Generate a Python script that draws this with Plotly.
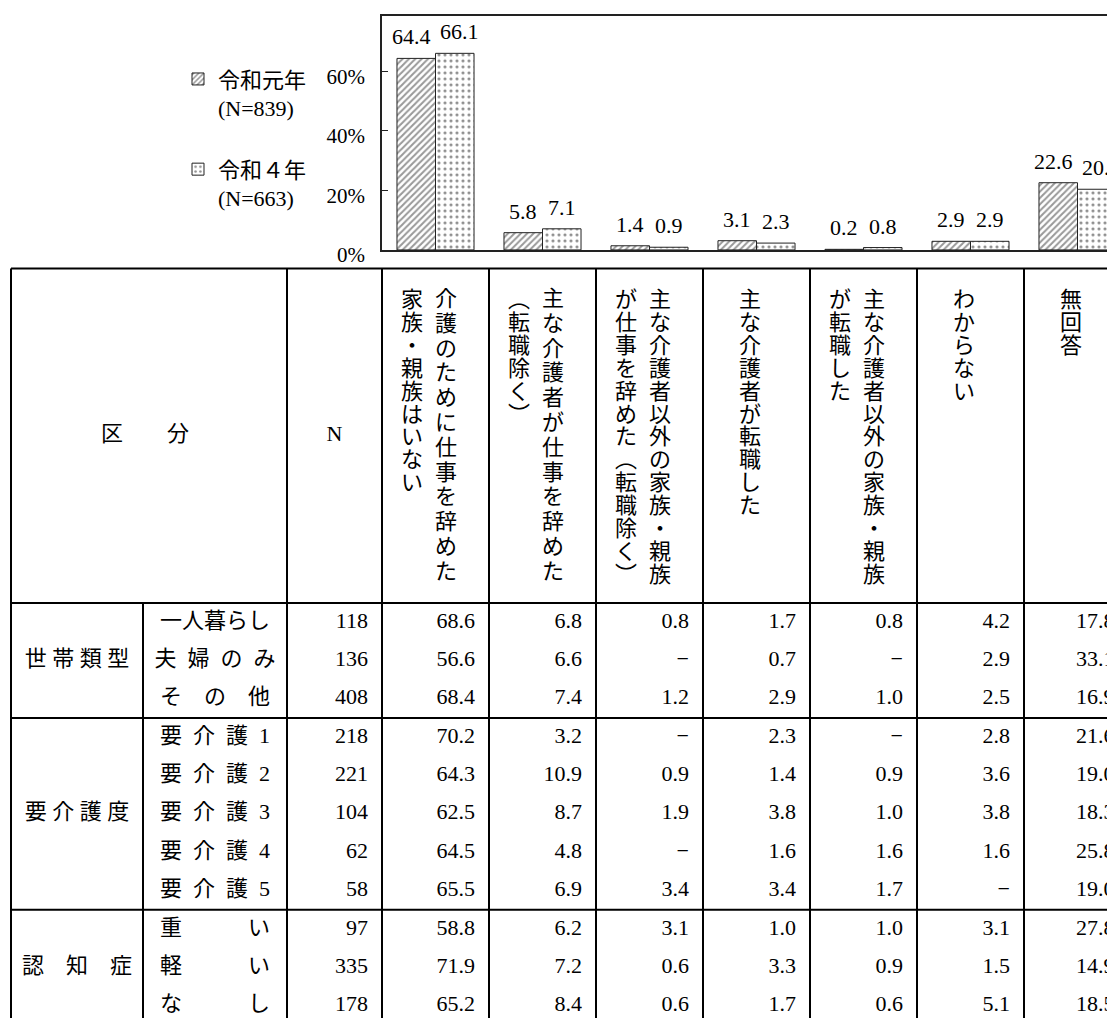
import plotly.graph_objects as go

# ---------------- data ----------------
categories = [
    "介護のために仕事を辞めた家族・親族はいない",
    "主な介護者が仕事を辞めた（転職除く）",
    "主な介護者以外の家族・親族が仕事を辞めた（転職除く）",
    "主な介護者が転職した",
    "主な介護者以外の家族・親族が転職した",
    "わからない",
    "無回答",
]
header_lines = [
    ["介護のために仕事を辞めた", "家族・親族はいない"],
    ["主な介護者が仕事を辞めた", "（転職除く）"],
    ["主な介護者以外の家族・親族", "が仕事を辞めた（転職除く）"],
    ["主な介護者が転職した"],
    ["主な介護者以外の家族・親族", "が転職した"],
    ["わからない"],
    ["無回答"],
]
series_names = ["令和元年", "令和４年"]
series_n = [839, 663]
values_r1 = [64.4, 5.8, 1.4, 3.1, 0.2, 2.9, 22.6]
values_r4 = [66.1, 7.1, 0.9, 2.3, 0.8, 2.9, 20.4]
y_ticks = [0, 20, 40, 60]

table_header_left = "区\u3000\u3000分"
table_header_n = "N"
group_labels = ["世 帯 類 型", "要 介 護 度", "認\u3000知\u3000症"]
group_sizes = [3, 5, 3]
row_labels = [
    "一人暮らし", "夫\u2002婦\u2002の\u2002み", "そ\u3000の\u3000他",
    "要\u2002介\u2002護\u20021", "要\u2002介\u2002護\u20022", "要\u2002介\u2002護\u20023",
    "要\u2002介\u2002護\u20024", "要\u2002介\u2002護\u20025",
    "重\u3000\u3000\u3000い", "軽\u3000\u3000\u3000い", "な\u3000\u3000\u3000し",
]
row_n = [118, 136, 408, 218, 221, 104, 62, 58, 97, 335, 178]
row_values = [  # None = "－"
    [68.6, 6.8, 0.8, 1.7, 0.8, 4.2, 17.8],
    [56.6, 6.6, None, 0.7, None, 2.9, 33.1],
    [68.4, 7.4, 1.2, 2.9, 1.0, 2.5, 16.9],
    [70.2, 3.2, None, 2.3, None, 2.8, 21.6],
    [64.3, 10.9, 0.9, 1.4, 0.9, 3.6, 19.0],
    [62.5, 8.7, 1.9, 3.8, 1.0, 3.8, 18.3],
    [64.5, 4.8, None, 1.6, 1.6, 1.6, 25.8],
    [65.5, 6.9, 3.4, 3.4, 1.7, None, 19.0],
    [58.8, 6.2, 3.1, 1.0, 1.0, 3.1, 27.8],
    [71.9, 7.2, 0.6, 3.3, 0.9, 1.5, 14.9],
    [65.2, 8.4, 0.6, 1.7, 0.6, 5.1, 18.5],
]

# ---------------- layout constants (page pixels) ----------------
PAGE_W, PAGE_H = 1115, 1035
PM = 8                                  # default page body margin
W, H = PAGE_W - PM, PAGE_H - PM         # figure runs to the window's right/bottom edge
FONT = "Liberation Serif, Noto Sans CJK JP, serif"
LINE = "#222222"
TABLE_X0 = 11
CAT_W, SUB_W, N_W, COL_W = 132, 144, 95, 107
TABLE_TOP, HEADER_BOTTOM, ROW_H = 273, 613, 39
CELL_PAD = 14
PLOT_TOP, PLOT_BOTTOM = 16, 254
Y_MAX = 78.7
TXT = 22
VCHAR = 22          # glyph size of vertical header text
V_PITCH = 22.9      # natural character pitch of vertical header text
V_FULL = 13         # lines this long (or nearly) fill the header height
BARGAP = 0.28

x_sub = TABLE_X0 + CAT_W
x_n = x_sub + SUB_W
x_data = x_n + N_W
col_edges = [x_data + i * COL_W for i in range(len(categories) + 1)]
n_rows = sum(group_sizes)
table_bottom = HEADER_BOTTOM + n_rows * ROW_H
row_centers = [HEADER_BOTTOM + (i + 0.5) * ROW_H for i in range(n_rows)]
x_max_visible = PM + W - 0.5

fig = go.Figure()

# ---------------- bars ----------------
bar_styles = [
    dict(shape="/", fgcolor="#333333", bgcolor="white", size=4.5, solidity=0.45),
    dict(shape=".", fgcolor="#222222", bgcolor="white", size=6, solidity=0.22),
]
bar_half = (1 - BARGAP) / 4 * COL_W     # px from category centre to bar centre
annotations = []
for i, (name, n, vals) in enumerate(zip(series_names, series_n, [values_r1, values_r4])):
    fig.add_trace(go.Bar(
        x=categories, y=vals, name=f"{name}<br>(N={n})", legendgroup=f"g{i}",
        marker=dict(color="white", pattern=bar_styles[i], line=dict(color=LINE, width=1)),
        cliponaxis=False, xaxis="x", yaxis="y",
    ))
    side = -1 if i == 0 else 1
    for cat, v in zip(categories, vals):
        label = f"{v:.1f}"
        spread = 5 if len(label) > 3 else 0
        annotations.append(dict(
            x=cat, y=v, xref="x", yref="y", text=label, showarrow=False,
            xanchor="center", yanchor="bottom", xshift=side * (bar_half + spread), yshift=7,
            font=dict(family=FONT, size=TXT, color="black"),
        ))

# ---------------- table text ----------------
def add_text(xs, ys, texts, pos):
    fig.add_trace(go.Scatter(
        x=xs, y=ys, text=texts, mode="text", textposition=pos,
        textfont=dict(family=FONT, size=TXT, color="black"),
        showlegend=False, hoverinfo="skip", cliponaxis=False,
        xaxis="x2", yaxis="y2",
    ))

# N column
add_text([x_data - CELL_PAD] * n_rows, row_centers, [str(v) for v in row_n], "middle left")
# values
xs, ys, ts = [], [], []
for r, vals in enumerate(row_values):
    for c, v in enumerate(vals):
        xs.append(min(col_edges[c + 1] - CELL_PAD, x_max_visible))
        ys.append(row_centers[r])
        ts.append("−" if v is None else f"{v:.1f}")
add_text(xs, ys, ts, "middle left")
# row labels
add_text([x_sub + SUB_W / 2] * n_rows, row_centers, row_labels, "middle center")
# group labels
gy, start = [], 0
for s in group_sizes:
    gy.append(HEADER_BOTTOM + (start + s / 2) * ROW_H)
    start += s
add_text([TABLE_X0 + CAT_W / 2] * len(group_labels), gy, group_labels, "middle center")
# header left cells
hy = (TABLE_TOP + HEADER_BOTTOM) / 2
add_text([(TABLE_X0 + x_n) / 2 - 4, (x_n + x_data) / 2], [hy, hy],
         [table_header_left, table_header_n], "middle center")

# vertical header text (one character per line, set top-down, lines right-to-left)
VERT_MAP = {"（": "︵", "）": "︶"}
def vertical(s):
    return "<br>".join(f'<span style="font-size:{VCHAR}px">{VERT_MAP.get(ch, ch)}</span>' for ch in s)

for c, lines in enumerate(header_lines):
    cx = (col_edges[c] + col_edges[c + 1]) / 2
    offsets = [-7] if len(lines) == 1 else [10, -24]
    for line, off in zip(lines, offsets):
        pitch = V_PITCH * V_FULL / len(line) if len(line) >= V_FULL - 1 else V_PITCH
        annotations.append(dict(
            x=cx + off, y=TABLE_TOP + 17 - (pitch - V_PITCH) * 0.5, xref="x2", yref="y2",
            text=vertical(line), showarrow=False, xanchor="center", yanchor="top",
            font=dict(family=FONT, size=pitch / 1.3, color="black"), align="center",
        ))

# ---------------- table lines ----------------
shapes = []
def vline(x, y0, y1):
    shapes.append(dict(type="line", xref="x2", yref="y2", x0=x, x1=x, y0=y0, y1=y1,
                       line=dict(color="black", width=2)))
def hline(y, x0, x1):
    shapes.append(dict(type="line", xref="x2", yref="y2", x0=x0, x1=x1, y0=y, y1=y,
                       line=dict(color="black", width=2)))

for x in [TABLE_X0, x_n, x_data] + col_edges[1:]:
    vline(x, TABLE_TOP, table_bottom)
vline(x_sub, HEADER_BOTTOM, table_bottom)
hline(TABLE_TOP, TABLE_X0, col_edges[-1])
hline(HEADER_BOTTOM, TABLE_X0, col_edges[-1])
start = 0
for s in group_sizes[:-1]:
    start += s
    hline(HEADER_BOTTOM + start * ROW_H, TABLE_X0, col_edges[-1])

fig.update_layout(
    width=W, height=H, autosize=False,
    margin=dict(l=0, r=0, t=0, b=0, pad=0),
    paper_bgcolor="white", plot_bgcolor="rgba(0,0,0,0)",
    barmode="group", bargap=BARGAP, bargroupgap=0,
    hovermode=False, showlegend=True,
    legend=dict(x=(178 - PM) / W, y=1 - (59 - PM) / H, xanchor="left", yanchor="top",
                font=dict(family=FONT, size=22, color="black"),
                traceorder="grouped", tracegroupgap=30, valign="top",
                bgcolor="rgba(0,0,0,0)", borderwidth=0),
    xaxis=dict(domain=[(x_data - PM) / W, 1], range=[-0.5, (PM + W - x_data) / COL_W - 0.5],
               showticklabels=False, ticks="", showgrid=False, zeroline=False,
               showline=True, linecolor=LINE, linewidth=1.5, mirror=True,
               fixedrange=True, anchor="y"),
    yaxis=dict(domain=[1 - (PLOT_BOTTOM - PM) / H, 1 - (PLOT_TOP - PM) / H], range=[0, Y_MAX],
               tickvals=y_ticks, ticktext=[f"{t}%" for t in y_ticks],
               ticks="inside", ticklen=6, tickcolor=LINE, tickwidth=1,
               showline=True, linecolor=LINE, linewidth=1.5,
               showgrid=False, zeroline=False,
               tickfont=dict(family=FONT, size=21, color="black"),
               ticklabelstandoff=11, ticklabelshift=5,
               fixedrange=True, anchor="x"),
    xaxis2=dict(domain=[0, 1], range=[PM, PM + W], visible=False, anchor="y2", fixedrange=True),
    yaxis2=dict(domain=[0, 1], range=[PM + H, PM], visible=False, anchor="x2", fixedrange=True),
    shapes=shapes, annotations=annotations,
)

fig.write_html("out.html")
